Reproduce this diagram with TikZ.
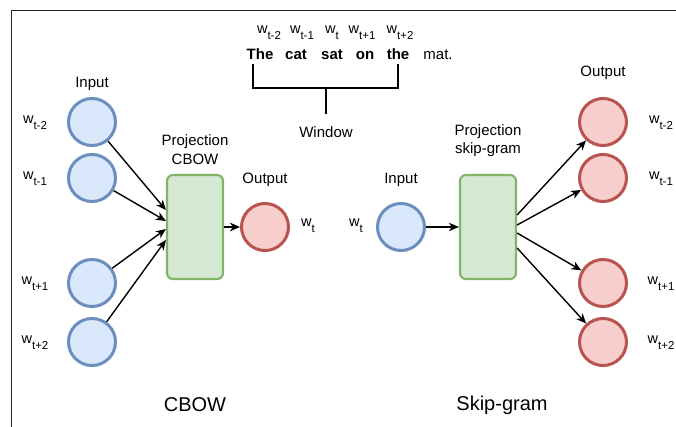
\documentclass[tikz,border=0pt]{standalone}
\usepackage{fontspec}
\setmainfont{Liberation Sans}
\usetikzlibrary{arrows.meta,calc}
\definecolor{bfill}{HTML}{DAE8FC}
\definecolor{bdraw}{HTML}{6C8EBF}
\definecolor{rfill}{HTML}{F8CECC}
\definecolor{rdraw}{HTML}{B85450}
\definecolor{gfill}{HTML}{D5E8D4}
\definecolor{gdraw}{HTML}{82B366}
\newcommand\wsub[1]{w\raisebox{-6pt}{\fontsize{11.5}{12}\selectfont #1}}
\tikzset{
  incirc/.style={circle,draw=bdraw,fill=bfill,line width=3pt,minimum size=47pt,inner sep=0pt},
  outcirc/.style={circle,draw=rdraw,fill=rfill,line width=3pt,minimum size=47pt,inner sep=0pt},
  projbox/.style={rectangle,rounded corners=6pt,draw=gdraw,fill=gfill,line width=2.2pt,minimum width=56pt,minimum height=104pt,inner sep=0pt},
  lbl/.style={inner sep=0pt,font=\fontsize{15}{17}\selectfont},
  wl/.style={inner sep=0pt,font=\fontsize{14.5}{16}\selectfont},
  big/.style={inner sep=0pt,font=\fontsize{20}{22}\selectfont},
  word/.style={inner sep=0pt,anchor=base,font=\fontsize{15}{17}\selectfont\bfseries},
  arr/.style={-{Stealth[length=10pt,width=8.5pt,inset=3pt]},line width=1.4pt},
  brk/.style={line width=1.3pt}
}
\begin{document}
\begin{tikzpicture}[x=1pt,y=-1pt]
\useasboundingbox (0,0) rectangle (676,427);
% frame
\draw[line width=1pt,black!85] (11,427) -- (11,11) -- (676,11);

% ---- CBOW ----
\node[incirc] (i1) at (92,122) {};
\node[incirc] (i2) at (92,178) {};
\node[incirc] (i3) at (92,283) {};
\node[incirc] (i4) at (92,342) {};
\node[wl] (li1) at (35,123) {\wsub{t-2}};
\node[wl] (li2) at (35,179) {\wsub{t-1}};
\node[wl] (li3) at (35,284) {\wsub{t+1}};
\node[wl] (li4) at (35,343) {\wsub{t+2}};
\node[lbl] (tin) at (92,84) {Input};
\node[projbox] (pc) at (195,227) {};
\node[lbl] (tp1) at (195,142) {Projection};
\node[lbl] (tp2) at (195,159) {CBOW};
\node[outcirc] (oc) at (265,227) {};
\node[lbl] (tout) at (265,180) {Output};
\node[wl] (lwt) at (308,226) {\wsub{t}};
\draw[arr] (i1) -- ([yshift=17pt]pc.west);
\draw[arr] (i2) -- ([yshift=6pt]pc.west);
\draw[arr] (i3) -- ([yshift=-2pt]pc.west);
\draw[arr] (i4) -- ([yshift=-13pt]pc.west);
\draw[arr] (pc.east) -- (oc);
\node[big] (cb) at (195,405) {CBOW};

% ---- Window ----
\node[wl,anchor=base] (s1) at (269,34) {\wsub{t-2}};
\node[wl,anchor=base] (s2) at (302,34) {\wsub{t-1}};
\node[wl,anchor=base] (s3) at (332,34) {\wsub{t}};
\node[wl,anchor=base] (s4) at (362,34) {\wsub{t+1}};
\node[wl,anchor=base] (s5) at (400,34) {\wsub{t+2}};
\node[word] (w1) at (260,60) {The};
\node[word] (w2) at (296,60) {cat};
\node[word] (w3) at (332,60) {sat};
\node[word] (w4) at (365,60) {on};
\node[word] (w5) at (398,60) {the};
\node[word,font=\fontsize{15}{17}\selectfont] (w6) at (438,60) {mat.};
\coordinate (bl) at (253,64);
\coordinate (br) at (398,64);
\coordinate (bm) at (326,88);
\node[lbl] (win) at (326,132) {Window};
\draw[brk] (bl) -- (bl |- bm) -- (br |- bm) -- (br);
\draw[brk] (bm) -- ([yshift=12pt]win.north);

% ---- Skip-gram ----
\node[incirc] (si) at (401,227) {};
\node[wl] (lsi) at (356,226) {\wsub{t}};
\node[lbl] (tsin) at (401,180) {Input};
\node[projbox] (ps) at (488,227) {};
\node[lbl] (tq1) at (488,132) {Projection};
\node[lbl] (tq2) at (488,150) {skip-gram};
\node[outcirc] (o1) at (603,122) {};
\node[outcirc] (o2) at (603,178) {};
\node[outcirc] (o3) at (603,283) {};
\node[outcirc] (o4) at (603,342) {};
\node[lbl] (tsout) at (603,73) {Output};
\node[wl] (lo1) at (661,123) {\wsub{t-2}};
\node[wl] (lo2) at (661,179) {\wsub{t-1}};
\node[wl] (lo3) at (661,284) {\wsub{t+1}};
\node[wl] (lo4) at (661,343) {\wsub{t+2}};
\draw[arr] (si) -- (ps.west);
\draw[arr] ([yshift=12pt]ps.east) -- (o1);
\draw[arr] ([yshift=2pt]ps.east) -- (o2);
\draw[arr] ([yshift=-6pt]ps.east) -- (o3);
\draw[arr] ([yshift=-21pt]ps.east) -- (o4);
\node[big] (sg) at (502,405) {Skip-gram};
\end{tikzpicture}
\end{document}
